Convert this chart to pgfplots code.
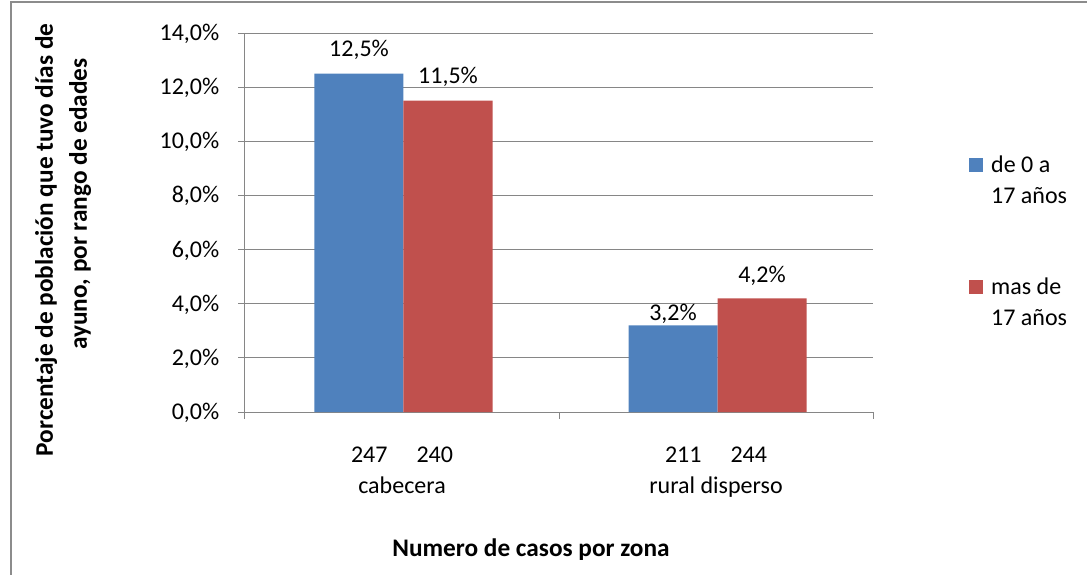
\documentclass[border=0pt]{standalone}
\usepackage{fontspec}
\setmainfont{Carlito}
\usepackage{pgfplots}
\usepackage{pgfplotstable}
\pgfplotsset{compat=1.18}
\definecolor{barblue}{RGB}{79,129,189}
\definecolor{barred}{RGB}{192,80,77}
\definecolor{gridgray}{RGB}{134,134,134}
\definecolor{framegray}{RGB}{140,140,140}
\newcommand\F{\fontsize{24}{31}\selectfont}
\newcommand\B{\fontsize{25.3}{34}\selectfont\bfseries}
\pgfplotstableread{
x y off
0 12.5 17.5
1 3.2 4.5
}\tblA
\pgfplotstableread{
x y off
0 11.5 17
1 4.2 15.5
}\tblB
\begin{document}
\begin{tikzpicture}
\path[use as bounding box] (-245pt,-162pt) rectangle (842pt,412pt);
\draw[framegray, line width=2pt] (-234pt,-163pt) -- (-234pt,409.5pt) -- (843pt,409.5pt);
\begin{axis}[
  at={(0pt,0pt)}, anchor=south west,
  scale only axis, width=628pt, height=379pt,
  xmin=-0.5, xmax=1.5, ymin=0, ymax=14,
  axis x line*=bottom, axis y line*=left,
  axis line style={gridgray, line width=1pt},
  ybar, bar width=89pt,
  ytick={0,2,4,6,8,10,12,14},
  yticklabels={{0,0\%},{2,0\%},{4,0\%},{6,0\%},{8,0\%},{10,0\%},{12,0\%},{14,0\%}},
  ymajorgrids, major grid style={gridgray, line width=1pt},
  tick align=outside,
  tick style={gridgray, line width=1pt},
  major tick length=6.5pt,
  xtick={-0.5,0.5,1.5}, xticklabels={},
  extra x ticks={0,1},
  extra x tick labels={{247\hspace{29pt}240\\cabecera},{211\hspace{29pt}244\\rural disperso}},
  extra x tick style={grid=none, major tick length=0pt, tick style={draw=none}},
  xticklabel style={font=\F, align=center, anchor=north, inner sep=0pt, yshift=-35pt},
  yticklabel style={font=\F, anchor=base east, inner sep=0pt, xshift=-19pt, yshift=-7.5pt},
  nodes near coords={\pgfmathprintnumber[assume math mode=true, fixed, fixed zerofill, precision=1, use comma]{\pgfplotspointmeta}\%},
  visualization depends on={\thisrow{off}\as\off},
  every node near coord/.append style={font=\F, anchor=base, inner sep=0pt, yshift=\off pt},
  legend style={at={(1.1529,0.6768)}, anchor=north west, draw=none, fill=none, inner sep=0pt,
    row sep=73pt, column sep=8pt, cells={anchor=base west},
    nodes={font=\F, align=left, inner sep=0pt}},
  legend image code/.code={\fill[#1] (0pt,31.5pt) rectangle (14pt,45.5pt);},
]
\addplot[fill=barblue, draw=none, bar shift=-43pt] table[x=x, y=y] {\tblA};
\addlegendentry{de 0 a\\17 años}
\addplot[fill=barred, draw=none, bar shift=46pt] table[x=x, y=y] {\tblB};
\addlegendentry{mas de\\17 años}
\end{axis}
\node[rotate=90, anchor=base, font=\B] at (-192pt,172pt) {Porcentaje de población que tuvo días de};
\node[rotate=90, anchor=base, font=\B] at (-158pt,208pt) {ayuno, por rango de edades};
\node[anchor=base, font=\B] at (286pt,-144pt) {Numero de casos por zona};
\end{tikzpicture}
\end{document}
